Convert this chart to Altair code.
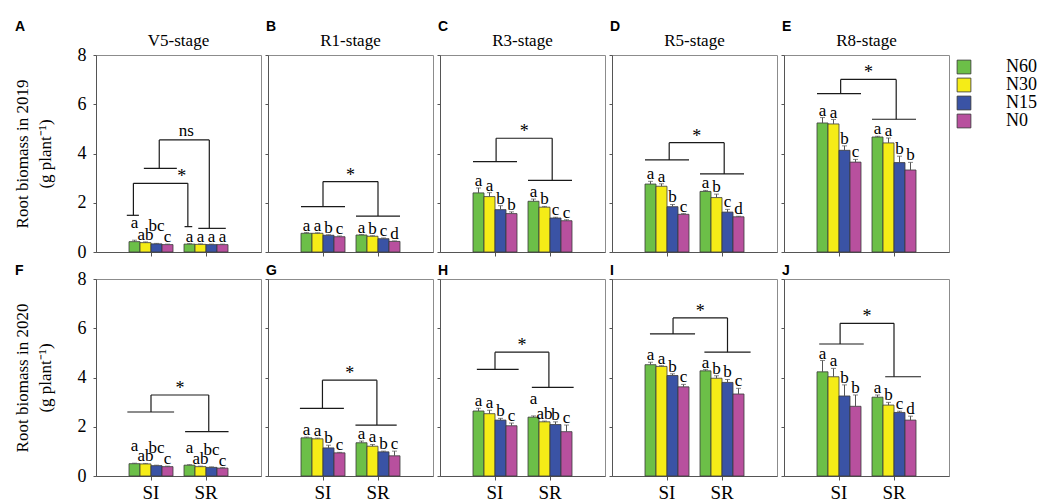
import altair as alt
import pandas as pd

SERIF = "Liberation Serif"
SANS = "Liberation Sans"

stages = ["V5-stage", "R1-stage", "R3-stage", "R5-stage", "R8-stage"]
years = ["2019", "2020"]
groups = ["SI", "SR"]
levels = ["N60", "N30", "N15", "N0"]
colors = ["#6cbf48", "#f5ec17", "#3a53a5", "#b8509e"]
panel_tags = [["A", "B", "C", "D", "E"], ["F", "G", "H", "I", "J"]]
y_titles = [["Root biomass in 2019", "(g plant\u207b\u00b9)"],
            ["Root biomass in 2020", "(g plant\u207b\u00b9)"]]

# means, one row per stage (V5, R1, R3, R5, R8), columns N60, N30, N15, N0
mean_2019_SI = [[0.42, 0.38, 0.33, 0.30], [0.76, 0.76, 0.68, 0.62], [2.40, 2.25, 1.72, 1.56],
                [2.76, 2.67, 1.84, 1.53], [5.24, 5.20, 4.13, 3.65]]
err_2019_SI = [[0.06, 0.03, 0.02, 0.02], [0.03, 0.02, 0.02, 0.03], [0.20, 0.16, 0.16, 0.07],
               [0.11, 0.10, 0.09, 0.03], [0.22, 0.18, 0.18, 0.11]]
mean_2019_SR = [[0.32, 0.31, 0.30, 0.30], [0.69, 0.64, 0.54, 0.43], [2.06, 1.82, 1.38, 1.27],
                [2.46, 2.21, 1.62, 1.43], [4.67, 4.43, 3.63, 3.33]]
err_2019_SR = [[0.02, 0.02, 0.02, 0.02], [0.02, 0.02, 0.03, 0.02], [0.09, 0.03, 0.03, 0.04],
               [0.04, 0.14, 0.11, 0.02], [0.03, 0.20, 0.26, 0.31]]
mean_2020_SI = [[0.50, 0.49, 0.42, 0.38], [1.55, 1.51, 1.14, 0.94], [2.64, 2.53, 2.27, 2.04],
                [4.52, 4.45, 4.08, 3.62], [4.23, 4.03, 3.25, 2.83]]
err_2020_SI = [[0.02, 0.02, 0.02, 0.02], [0.03, 0.03, 0.11, 0.02], [0.11, 0.14, 0.07, 0.11],
               [0.10, 0.03, 0.07, 0.10], [0.46, 0.34, 0.45, 0.46]]
mean_2020_SR = [[0.44, 0.38, 0.35, 0.32], [1.35, 1.21, 0.98, 0.82], [2.39, 2.20, 2.09, 1.80],
                [4.27, 3.97, 3.80, 3.33], [3.20, 2.88, 2.58, 2.27]]
err_2020_SR = [[0.02, 0.02, 0.02, 0.02], [0.07, 0.07, 0.03, 0.19], [0.05, 0.03, 0.11, 0.27],
               [0.05, 0.10, 0.12, 0.23], [0.09, 0.11, 0.05, 0.16]]

# significance letters
letters_2019_SI = [["a", "ab", "bc", "c"], ["a", "a", "b", "c"], ["a", "a", "b", "b"],
                   ["a", "a", "b", "c"], ["a", "a", "b", "c"]]
letters_2019_SR = [["a", "a", "a", "a"], ["a", "b", "c", "d"], ["a", "b", "c", "c"],
                   ["a", "b", "c", "d"], ["a", "a", "b", "b"]]
letters_2020_SI = [["a", "ab", "bc", "c"], ["a", "a", "b", "c"], ["a", "a", "b", "c"],
                   ["a", "a", "b", "c"], ["a", "a", "b", "b"]]
letters_2020_SR = [["a", "ab", "bc", "c"], ["a", "a", "b", "c"], ["a", "ab", "b", "c"],
                   ["a", "b", "b", "c"], ["a", "b", "c", "d"]]
# letters drawn one step higher (to avoid overlap)
raised_2019_SI = [[1, 0, 1, 0], [0, 0, 0, 0], [0, 0, 0, 0], [0, 0, 0, 0], [0, 0, 0, 0]]
raised_2019_SR = [[0, 0, 0, 0], [0, 0, 0, 0], [0, 0, 0, 0], [0, 0, 0, 0], [0, 0, 0, 0]]
raised_2020_SI = [[1, 0, 1, 0], [0, 0, 0, 0], [0, 0, 0, 0], [0, 0, 0, 0], [0, 0, 0, 0]]
raised_2020_SR = [[1, 0, 1, 0], [0, 0, 0, 0], [1, 0, 0, 0], [0, 0, 0, 0], [0, 0, 0, 0]]

# brackets: (SI line left, SI line right, SI line height, SI stem,
#            SR line left, SR line right, SR line height, SR stem,
#            top height, label, label x or None)  x in group units (SI = 0, SR = 1)
brackets_2019 = [
    [(-0.44, -0.22, 1.49, -0.32, 0.61, 0.75, 1.03, 0.67, 2.79, "*", 0.56),
     (-0.13, 0.47, 3.40, 0.15, 0.86, 1.36, 0.96, 1.06, 4.55, "ns", 0.64)],
    [(-0.40, 0.40, 1.84, 0.00, 0.60, 1.40, 1.46, 1.00, 2.86, "*", None)],
    [(-0.40, 0.40, 3.67, 0.02, 0.60, 1.40, 2.91, 1.04, 4.62, "*", None)],
    [(-0.40, 0.40, 3.74, 0.04, 0.60, 1.40, 3.17, 1.04, 4.44, "*", None)],
    [(-0.40, 0.40, 6.43, 0.03, 0.60, 1.40, 5.39, 1.04, 7.01, "*", None)],
]
brackets_2020 = [
    [(-0.43, 0.42, 2.60, 0.00, 0.62, 1.41, 1.80, 1.05, 3.29, "*", None)],
    [(-0.42, 0.38, 2.75, -0.01, 0.59, 1.34, 2.07, 0.98, 3.89, "*", None)],
    [(-0.33, 0.43, 4.33, 0.00, 0.67, 1.43, 3.60, 0.98, 5.03, "*", None)],
    [(-0.31, 0.51, 5.77, 0.11, 0.68, 1.52, 5.03, 1.10, 6.42, "*", None)],
    [(-0.36, 0.45, 5.36, 0.02, 0.84, 1.49, 4.03, 1.00, 6.20, "*", None)],
]

MEANS = {("2019", "SI"): mean_2019_SI, ("2019", "SR"): mean_2019_SR,
         ("2020", "SI"): mean_2020_SI, ("2020", "SR"): mean_2020_SR}
ERRS = {("2019", "SI"): err_2019_SI, ("2019", "SR"): err_2019_SR,
        ("2020", "SI"): err_2020_SI, ("2020", "SR"): err_2020_SR}
LETTERS = {("2019", "SI"): letters_2019_SI, ("2019", "SR"): letters_2019_SR,
           ("2020", "SI"): letters_2020_SI, ("2020", "SR"): letters_2020_SR}
RAISED = {("2019", "SI"): raised_2019_SI, ("2019", "SR"): raised_2019_SR,
          ("2020", "SI"): raised_2020_SI, ("2020", "SR"): raised_2020_SR}
BRACKETS = {"2019": brackets_2019, "2020": brackets_2020}

W, H = 165, 197

xband = alt.Scale(domain=groups, paddingInner=0.2, paddingOuter=0.6)
xoff = alt.Scale(domain=levels, paddingInner=0, paddingOuter=0)
yscale = alt.Scale(domain=[0, 8], nice=False, zero=True)
xq = alt.Scale(domain=[-1, 2], nice=False, zero=False)
color_enc = alt.Color(
    "N:N", scale=alt.Scale(domain=levels, range=colors), sort=levels,
    legend=alt.Legend(title=None, orient="none", legendX=859, legendY=3, padding=0,
                      symbolType="square", symbolSize=190, symbolStrokeColor="#333",
                      symbolStrokeWidth=0.8, symbolOpacity=1,
                      labelFont=SERIF, labelFontSize=18, labelColor="black",
                      labelOffset=33, rowPadding=0))


def make_panel(yi, si):
    year, stage = years[yi], stages[si]
    rows = []
    for g in groups:
        for li, lv in enumerate(levels):
            m = MEANS[(year, g)][si][li]
            e = ERRS[(year, g)][si][li]
            rows.append(dict(group=g, N=lv, mean=m, top=m + e,
                             letter=LETTERS[(year, g)][si][li],
                             raised=RAISED[(year, g)][si][li]))
    bdf = pd.DataFrame(rows)

    segs, labs = [], []
    for (l1, r1, h1, v1, l2, r2, h2, v2, top, lab, lx) in BRACKETS[year][si]:
        segs += [dict(x=l1, x2=r1, y=h1, y2=h1), dict(x=v1, x2=v1, y=h1, y2=top),
                 dict(x=v1, x2=v2, y=top, y2=top), dict(x=v2, x2=v2, y=h2, y2=top),
                 dict(x=l2, x2=r2, y=h2, y2=h2)]
        labs.append(dict(label=lab, x=(v1 + v2) / 2 if lx is None else lx, y=top))
    sdf = pd.DataFrame(segs)
    ldf = pd.DataFrame(labs)

    xaxis = alt.Axis(title=None, labels=(yi == 1), ticks=True, tickSize=4, labelAngle=0,
                     labelFont=SERIF, labelFontSize=19, labelPadding=3, labelColor="black",
                     domainColor="#555", tickColor="#555", grid=False)
    if si == 0:
        yaxis = alt.Axis(values=[0, 2, 4, 6, 8], title=y_titles[yi], titleFont=SERIF,
                         titleFontSize=17, titleFontWeight="normal", titleColor="black",
                         titleLineHeight=23, titlePadding=23,
                         labelFont=SERIF, labelFontSize=18, labelColor="black",
                         labelPadding=7, tickSize=3, domainColor="#555", tickColor="#555",
                         grid=False)
    else:
        yaxis = alt.Axis(values=[0, 2, 4, 6, 8], title=None, labels=False, tickSize=3,
                         domainColor="#555", tickColor="#555", grid=False)

    X = alt.X("group:N", scale=xband, axis=xaxis, sort=groups)
    XO = alt.XOffset("N:N", scale=xoff, sort=levels)
    Yb = alt.Y("mean:Q", scale=yscale, axis=yaxis)

    bars = alt.Chart(bdf).mark_bar(stroke="#3a3a3a", strokeWidth=0.8).encode(
        x=X, xOffset=XO, y=Yb, color=color_enc)
    errs = alt.Chart(bdf).mark_rule(color="#555", strokeWidth=1).encode(
        x=X, xOffset=XO, y=Yb, y2="top:Q")
    caps = alt.Chart(bdf).mark_tick(orient="horizontal", size=5, thickness=1, color="#555").encode(
        x=X, xOffset=XO, y=alt.Y("top:Q", scale=yscale, axis=yaxis))
    let_lo = alt.Chart(bdf).transform_filter(alt.datum.raised == 0).mark_text(
        font=SERIF, fontSize=17, baseline="alphabetic", dy=-2, color="black").encode(
        x=X, xOffset=XO, y=alt.Y("top:Q", scale=yscale, axis=yaxis), text="letter:N")
    let_hi = alt.Chart(bdf).transform_filter(alt.datum.raised == 1).mark_text(
        font=SERIF, fontSize=17, baseline="alphabetic", dy=-12, color="black").encode(
        x=X, xOffset=XO, y=alt.Y("top:Q", scale=yscale, axis=yaxis), text="letter:N")
    inner = alt.layer(bars, errs, caps, let_lo, let_hi)

    XQ = alt.X("x:Q", scale=xq, axis=None)
    YQ = alt.Y("y:Q", scale=yscale, axis=yaxis)
    lines = alt.Chart(sdf).mark_rule(color="#1a1a1a", strokeWidth=1.2).encode(
        x=XQ, x2="x2:Q", y=YQ, y2="y2:Q")
    stars = alt.Chart(ldf).transform_filter(alt.datum.label == "*").mark_text(
        font=SERIF, fontSize=18, baseline="alphabetic", dy=-1, color="black").encode(
        x=XQ, y=YQ, text="label:N")
    words = alt.Chart(ldf).transform_filter(alt.datum.label != "*").mark_text(
        font=SERIF, fontSize=17, baseline="alphabetic", dy=-4, color="black").encode(
        x=XQ, y=YQ, text="label:N")
    layers = [alt.layer(lines, stars, words), inner]

    tag_x = -81 if si == 0 else -2
    tag_y = -35 if yi == 0 else -15
    tag = alt.Chart(pd.DataFrame({"t": [panel_tags[yi][si]]})).mark_text(
        font=SANS, fontSize=14, fontWeight="bold", align="left", baseline="top",
        color="black").encode(x=alt.value(tag_x), y=alt.value(tag_y), text="t:N")
    layers.append(tag)
    if yi == 0:
        head = alt.Chart(pd.DataFrame({"t": [stage]})).mark_text(
            font=SERIF, fontSize=17, align="center", baseline="alphabetic",
            color="black").encode(x=alt.value(W / 2), y=alt.value(-9), text="t:N")
        layers.append(head)
    outer = alt.layer(*layers).resolve_scale(x="independent")
    return outer.properties(width=W, height=H)


panels = [make_panel(yi, si) for yi in range(2) for si in range(5)]
chart = alt.concat(*panels, columns=5, spacing={"row": 27, "column": 7},
                   bounds="flush").configure_view(
    stroke="#8c8c8c", strokeWidth=1).properties(
    background="white", padding={"left": 4, "top": 11, "right": 0, "bottom": 0})

chart.save("out.html", embed_options={"renderer": "svg", "actions": False})
